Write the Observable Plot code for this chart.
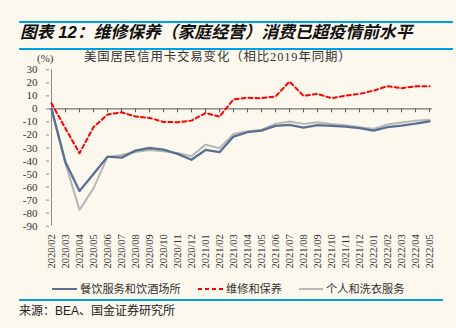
<!DOCTYPE html>
<html><head><meta charset="utf-8">
<script src="https://cdn.jsdelivr.net/npm/d3@7"></script>
<script src="https://cdn.jsdelivr.net/npm/@observablehq/plot@0.6"></script>
<style>
html,body{margin:0;padding:0;background:#fcf8ee;}
#c{position:relative;width:456px;height:328px;overflow:hidden;background:#fcf8ee;}
#c svg.chart{position:absolute;left:0;top:0;}
.ab{position:absolute;white-space:nowrap;}
.hl{position:absolute;height:2px;background:#00a0e9;}
.serif{font-family:"Liberation Serif","Noto Sans CJK SC",serif;color:#333;}
</style></head><body>
<div id="c">
  <div class="hl" style="left:19px;top:21px;width:434px;"></div>
  <div class="ab" id="title" style="left:20px;top:24px;font:italic bold 16.8px/17px 'Liberation Sans','Noto Sans CJK SC',sans-serif;color:#111;"></div>
  <div class="hl" style="left:19px;top:48px;width:434px;"></div>
  <div class="ab serif" id="unit" style="left:37px;top:52px;font-size:11px;line-height:12px;"></div>
  <div class="ab serif" id="sub" style="left:84px;top:51px;font-size:12.4px;line-height:13px;letter-spacing:0.9px;"></div>
  <div id="legend"></div>
  <div class="hl" style="left:19px;top:299px;width:424px;"></div>
  <div class="ab" id="src" style="left:19px;top:305px;font:12px/12px 'Liberation Sans','Noto Sans CJK SC',sans-serif;color:#222;"></div>
</div>
<script>
const titleText = "图表 12：维修保养（家庭经营）消费已超疫情前水平";
const subtitleText = "美国居民信用卡交易变化（相比2019年同期）";
const unitText = "(%)";
const sourceText = "来源：BEA、国金证券研究所";

const months = ["2020/02","2020/03","2020/04","2020/05","2020/06","2020/07","2020/08","2020/09","2020/10","2020/11","2020/12",
  "2021/01","2021/02","2021/03","2021/04","2021/05","2021/06","2021/07","2021/08","2021/09","2021/10","2021/11","2021/12",
  "2022/01","2022/02","2022/03","2022/04","2022/05"];
const seriesNames = ["餐饮服务和饮酒场所","维修和保养","个人和洗衣服务"];
const dining   = [0,-41,-63,-50,-36.6,-37.4,-32,-30,-31.2,-34.5,-39,-31.5,-33.2,-21.2,-17.9,-16.6,-13,-12.3,-14.3,-12.5,-13,-13.6,-14.8,-16.6,-14,-12.8,-11.3,-9.5];
const repair   = [4.3,-15,-34,-14,-4.3,-2.6,-5.9,-6.9,-10,-10.2,-9,-3.2,-6,7.3,8.6,8.2,9.5,21,10,11.5,8.2,10.2,11.5,14,17.4,15.9,17.4,17.4];
const personal = [0,-42,-77.5,-61,-37,-35.3,-33,-31.5,-32.5,-33.8,-36.3,-27.4,-30.2,-19.2,-17.1,-15.9,-11.5,-9.7,-11.5,-10.2,-11.5,-12.5,-14,-15.3,-12,-10.5,-9,-8.4];
const yTicks = [30,20,10,0,-10,-20,-30,-40,-50,-60,-70,-80,-90];

const colors = ["#5a7092","#ff0000","#b7b7b7"];

document.getElementById("title").textContent = titleText;
document.getElementById("sub").textContent = subtitleText;
document.getElementById("unit").textContent = unitText;
document.getElementById("src").textContent = sourceText;

const rows = months.map((m, i) => ({m, dining: dining[i], repair: repair[i], personal: personal[i]}));

const chart = Plot.plot({
  width: 456,
  height: 328,
  marginTop: 69.3,
  marginBottom: 102.3,
  marginLeft: 49,
  marginRight: 24.3,
  style: {background: "transparent", fontFamily: "'Liberation Serif', serif", fontSize: "11px", color: "#333"},
  x: {type: "point", domain: months, padding: 0, label: null},
  y: {domain: [-90, 30], label: null},
  marks: [
    Plot.ruleX([months[0]], {stroke: "#8a8a8a", strokeWidth: 1}),
    Plot.axisY({ticks: yTicks, tickSize: 3, tickPadding: 9, tickFormat: d => String(d), stroke: "#8a8a8a", fill: "#333", fontSize: 11, label: null}),
    Plot.axisX({anchor: "bottom", tickSize: 0, tickPadding: 8, tickRotate: -90, fontSize: 10.5, fill: "#333", label: null}),
    Plot.ruleY([0], {stroke: "#555", strokeWidth: 1}),
    Plot.vector(months, {x: d => d, y: d => 0, length: 3, rotate: 180, anchor: "start", stroke: "#555", strokeWidth: 1,
      shape: {draw(context, l) { context.moveTo(0, 0); context.lineTo(0, -l); }}}),
    Plot.line(rows, {x: "m", y: "personal", stroke: colors[2], strokeWidth: 2}),
    Plot.line(rows, {x: "m", y: "dining", stroke: colors[0], strokeWidth: 2.3}),
    Plot.line(rows, {x: "m", y: "repair", stroke: colors[1], strokeWidth: 2, strokeDasharray: "4,3"})
  ]
});
chart.classList.add("chart");
document.getElementById("c").insertBefore(chart, document.getElementById("c").firstChild);

// legend
const legendItems = [
  {name: seriesNames[0], color: colors[0], dash: null, x: 52, w: 25},
  {name: seriesNames[1], color: colors[1], dash: "4,3", x: 198, w: 25},
  {name: seriesNames[2], color: colors[2], dash: null, x: 299, w: 24}
];
const lg = document.getElementById("legend");
for (const it of legendItems) {
  const sw = document.createElementNS("http://www.w3.org/2000/svg", "svg");
  sw.setAttribute("width", it.w); sw.setAttribute("height", 6);
  sw.style.position = "absolute"; sw.style.left = it.x + "px"; sw.style.top = "286px";
  const ln = document.createElementNS("http://www.w3.org/2000/svg", "line");
  ln.setAttribute("x1", 0); ln.setAttribute("x2", it.w); ln.setAttribute("y1", 3); ln.setAttribute("y2", 3);
  ln.setAttribute("stroke", it.color); ln.setAttribute("stroke-width", 2);
  if (it.dash) ln.setAttribute("stroke-dasharray", it.dash);
  sw.appendChild(ln);
  lg.appendChild(sw);
  const t = document.createElement("div");
  t.className = "ab serif";
  t.style.left = (it.x + it.w + 3) + "px";
  t.style.top = "283px";
  t.style.fontSize = "11.2px";
  t.style.lineHeight = "12px";
  t.textContent = it.name;
  lg.appendChild(t);
}
</script>
</body></html>
